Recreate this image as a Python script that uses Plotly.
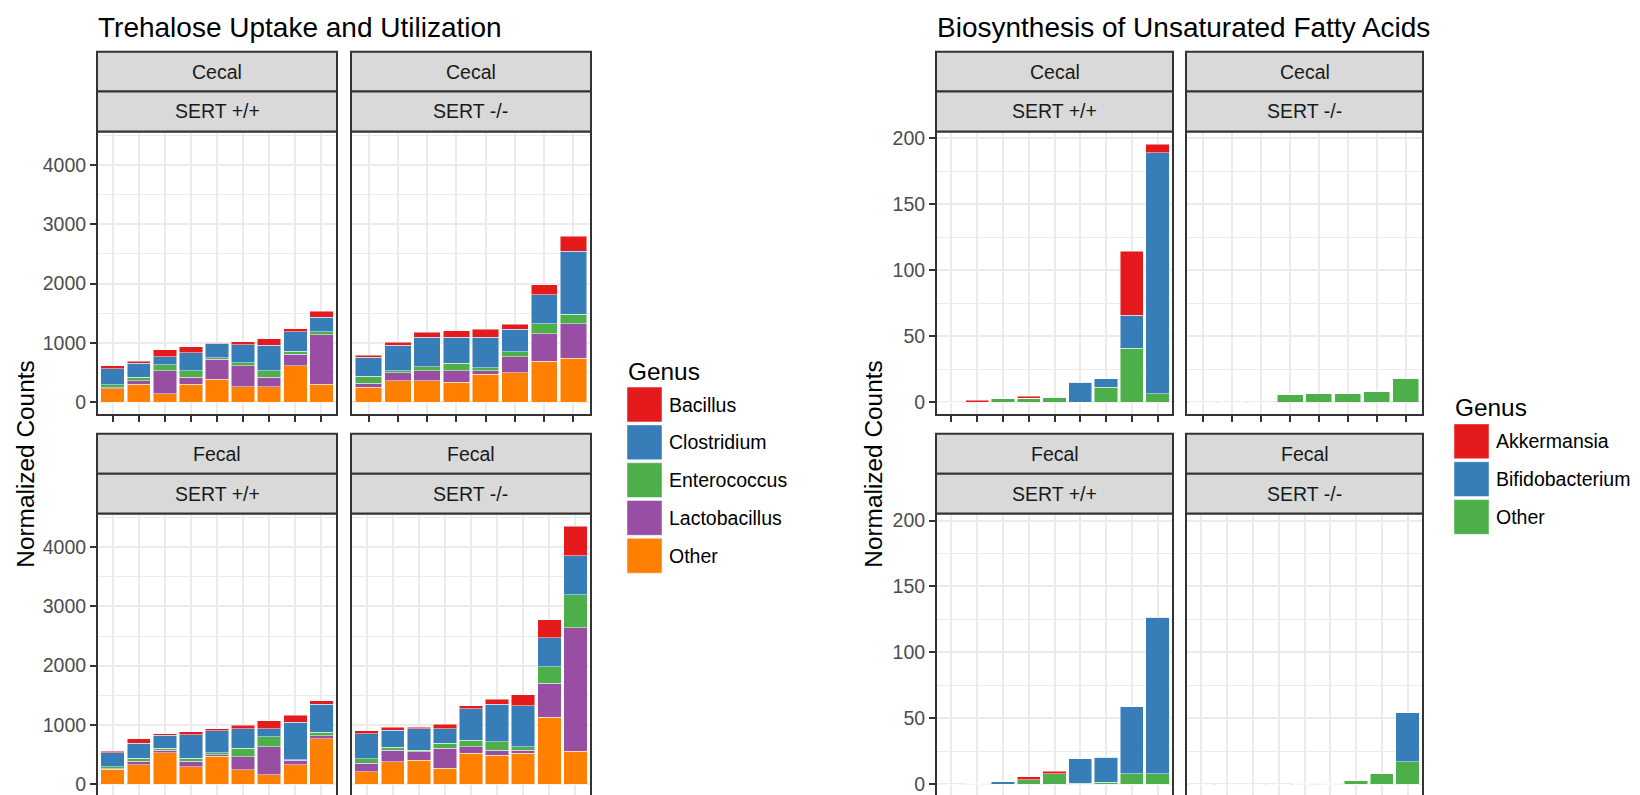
import plotly.graph_objects as go

W, H = 1640, 795
FONT = "Liberation Sans, Arial, sans-serif"

# ---------------- Trehalose Uptake and Utilization ----------------
treh_title = "Trehalose Uptake and Utilization"
treh_genera = ["Bacillus", "Clostridium", "Enterococcus", "Lactobacillus", "Other"]
treh_colors = ["#E41A1C", "#377EB8", "#4DAF4A", "#984EA3", "#FF7F00"]

# Cecal, SERT +/+
treh_cecal_wt_other = [222, 305, 139, 305, 388, 260, 260, 609, 305]
treh_cecal_wt_lacto = [22, 55, 388, 111, 332, 349, 155, 194, 831]
treh_cecal_wt_entero = [50, 56, 100, 111, 28, 56, 111, 56, 50]
treh_cecal_wt_clost = [271, 238, 138, 305, 238, 299, 432, 327, 243]
treh_cecal_wt_bacillus = [44, 39, 122, 100, 11, 55, 111, 50, 106]
# Cecal, SERT -/-
treh_cecal_ko_other = [249, 360, 360, 332, 471, 499, 687, 742]
treh_cecal_ko_lacto = [72, 139, 166, 194, 55, 266, 465, 576]
treh_cecal_ko_entero = [111, 28, 72, 128, 50, 83, 166, 166]
treh_cecal_ko_clost = [327, 432, 499, 443, 521, 382, 493, 1064]
treh_cecal_ko_bacillus = [33, 50, 78, 105, 133, 83, 166, 249]
# Fecal, SERT +/+
treh_fecal_wt_other = [251, 329, 530, 296, 474, 245, 162, 329, 764]
treh_fecal_wt_lacto = [11, 56, 39, 89, 23, 218, 468, 78, 56]
treh_fecal_wt_entero = [28, 50, 39, 50, 33, 140, 168, 5, 56]
treh_fecal_wt_clost = [240, 251, 218, 396, 374, 329, 139, 636, 474]
treh_fecal_wt_bacillus = [22, 84, 28, 50, 33, 61, 134, 112, 56]
# Fecal, SERT -/-
treh_fecal_ko_other = [212, 379, 407, 268, 519, 491, 519, 1127, 552]
treh_fecal_ko_lacto = [139, 196, 140, 335, 111, 84, 56, 575, 2087]
treh_fecal_ko_entero = [79, 50, 28, 83, 112, 139, 55, 278, 558]
treh_fecal_ko_clost = [424, 284, 362, 251, 530, 636, 692, 491, 658]
treh_fecal_ko_bacillus = [50, 51, 23, 78, 50, 84, 184, 307, 496]
treh_yticks = [0, 1000, 2000, 3000, 4000]

# ---------------- Biosynthesis of Unsaturated Fatty Acids ----------------
bio_title = "Biosynthesis of Unsaturated Fatty Acids"
bio_genera = ["Akkermansia", "Bifidobacterium", "Other"]
bio_colors = ["#E41A1C", "#377EB8", "#4DAF4A"]

bio_cecal_wt_other = [0, 0, 2.5, 3, 3.8, 0, 11.3, 41, 6.3]
bio_cecal_wt_bifido = [0, 0, 0, 0, 0, 15, 6.3, 25, 183]
bio_cecal_wt_akk = [0, 1.5, 0, 1.5, 0, 0, 0, 48.5, 6.3]

bio_cecal_ko_other = [0, 0, 0, 5.5, 6.8, 6.8, 8, 18]
bio_cecal_ko_bifido = [0, 0, 0, 0, 0, 0, 0, 0]
bio_cecal_ko_akk = [0, 0, 0, 0, 0, 0, 0, 0]

bio_fecal_wt_other = [0, 0.5, 0, 3.3, 7.8, 0.5, 1.5, 7.8, 7.8]
bio_fecal_wt_bifido = [0.8, 0, 1.8, 0, 0, 18.7, 19, 51, 119]
bio_fecal_wt_akk = [0, 0, 0, 2.3, 1.8, 0, 0, 0, 0]

bio_fecal_ko_other = [0, 0, 0, 0, 0.8, 0.8, 2.8, 7.8, 17]
bio_fecal_ko_bifido = [0, 0, 0, 0, 0, 0, 0, 0, 37]
bio_fecal_ko_akk = [0, 0, 0, 0, 0, 0, 0, 0, 0]
bio_yticks = [0, 50, 100, 150, 200]

site_labels = ["Cecal", "Fecal"]
geno_labels = ["SERT +/+", "SERT -/-"]
y_title = "Normalized Counts"
legend_title = "Genus"

# ---------------- layout geometry (pixels) ----------------
treh_cols = [(89, 329), (343, 583)]
bio_cols = [(928, 1165), (1178, 1415)]
panel_rows = [(120, 405), (504, 789)]
strip_rows = [((40, 80), (80, 120)), ((424, 464), (464, 504))]


def px(x):
    return x / W


def py(y):
    return 1 - y / H


# stacking order: bottom first
treh_facets = [
    (0, 0, [treh_cecal_wt_other, treh_cecal_wt_lacto, treh_cecal_wt_entero, treh_cecal_wt_clost, treh_cecal_wt_bacillus]),
    (0, 1, [treh_cecal_ko_other, treh_cecal_ko_lacto, treh_cecal_ko_entero, treh_cecal_ko_clost, treh_cecal_ko_bacillus]),
    (1, 0, [treh_fecal_wt_other, treh_fecal_wt_lacto, treh_fecal_wt_entero, treh_fecal_wt_clost, treh_fecal_wt_bacillus]),
    (1, 1, [treh_fecal_ko_other, treh_fecal_ko_lacto, treh_fecal_ko_entero, treh_fecal_ko_clost, treh_fecal_ko_bacillus]),
]
treh_stack_colors = [treh_colors[4], treh_colors[3], treh_colors[2], treh_colors[1], treh_colors[0]]
treh_stack_names = [treh_genera[4], treh_genera[3], treh_genera[2], treh_genera[1], treh_genera[0]]

bio_facets = [
    (0, 0, [bio_cecal_wt_other, bio_cecal_wt_bifido, bio_cecal_wt_akk]),
    (0, 1, [bio_cecal_ko_other, bio_cecal_ko_bifido, bio_cecal_ko_akk]),
    (1, 0, [bio_fecal_wt_other, bio_fecal_wt_bifido, bio_fecal_wt_akk]),
    (1, 1, [bio_fecal_ko_other, bio_fecal_ko_bifido, bio_fecal_ko_akk]),
]
bio_stack_colors = [bio_colors[2], bio_colors[1], bio_colors[0]]
bio_stack_names = [bio_genera[2], bio_genera[1], bio_genera[0]]


def ymax_of(facets):
    m = 0
    for _, _, series in facets:
        tot = [sum(v) for v in zip(*series)]
        m = max(m, max(tot))
    return m


fig = go.Figure()
layout = dict(
    width=W, height=H, margin=dict(l=0, r=0, t=0, b=0),
    paper_bgcolor="white", plot_bgcolor="white", barmode="stack",
    showlegend=False, font=dict(family=FONT, color="#1A1A1A"),
)
shapes = []
annotations = []
axis_idx = [0]


def add_block(facets, cols, stack_colors, stack_names, yticks, minor_step):
    ymax = ymax_of(facets)
    yr = [-0.05 * ymax, 1.05 * ymax]
    for row, col, series in facets:
        axis_idx[0] += 1
        i = axis_idx[0]
        sx = "" if i == 1 else str(i)
        n = len(series[0])
        xs = list(range(1, n + 1))
        for vals, c, name in zip(series, stack_colors, stack_names):
            fig.add_trace(go.Bar(
                x=xs, y=vals, name=name, marker=dict(color=c, line=dict(color="rgba(255,255,255,0.6)", width=0.8)),
                width=0.9, xaxis="x" + sx, yaxis="y" + sx, showlegend=False,
            ))
        x0, x1 = cols[col]
        y0, y1 = panel_rows[row]
        layout["xaxis" + sx] = dict(
            domain=[px(x0), px(x1)], anchor="y" + sx, range=[0.4, n + 0.6],
            tickvals=xs, showticklabels=False, ticks="outside", ticklen=6, tickwidth=2,
            tickcolor="#333333", showgrid=True, gridcolor="#EBEBEB", gridwidth=2.2,
            zeroline=False, showline=False, fixedrange=True,
        )
        layout["yaxis" + sx] = dict(
            domain=[py(y1), py(y0)], anchor="x" + sx, range=yr,
            tickvals=yticks, ticktext=[str(t) for t in yticks],
            showticklabels=(col == 0), ticks="outside" if col == 0 else "", ticklen=6, tickwidth=2,
            tickcolor="#333333", tickfont=dict(size=19.5, color="#4D4D4D", family=FONT),
            showgrid=True, gridcolor="#EBEBEB", gridwidth=2.2, zeroline=False, showline=False,
            minor=dict(dtick=minor_step, tick0=0, showgrid=True, gridcolor="#EBEBEB", gridwidth=1.1, ticks=""),
            fixedrange=True,
        )
        # panel border
        shapes.append(dict(type="rect", xref="paper", yref="paper", x0=px(x0), x1=px(x1),
                           y0=py(y1), y1=py(y0), line=dict(color="#333333", width=2),
                           fillcolor="rgba(0,0,0,0)", layer="above"))
        # strips
        for (sy0, sy1), label in zip(strip_rows[row], [site_labels[row], geno_labels[col]]):
            shapes.append(dict(type="rect", xref="paper", yref="paper", x0=px(x0), x1=px(x1),
                               y0=py(sy1), y1=py(sy0), line=dict(color="#333333", width=2),
                               fillcolor="#D9D9D9", layer="above"))
            annotations.append(dict(text=label, xref="paper", yref="paper", x=px((x0 + x1) / 2),
                                    y=py((sy0 + sy1) / 2), showarrow=False, xanchor="center",
                                    yanchor="middle", font=dict(size=19.5, color="#1A1A1A", family=FONT)))


add_block(treh_facets, treh_cols, treh_stack_colors, treh_stack_names, treh_yticks, 500)
add_block(bio_facets, bio_cols, bio_stack_colors, bio_stack_names, bio_yticks, 25)

# titles
for text, x in [(treh_title, 88), (bio_title, 927)]:
    annotations.append(dict(text=text, xref="paper", yref="paper", x=px(x), y=py(16),
                            showarrow=False, xanchor="left", yanchor="middle",
                            font=dict(size=28, color="black", family=FONT)))

# y-axis titles
for x in [18, 866]:
    annotations.append(dict(text=y_title, xref="paper", yref="paper", x=px(x), y=py(455),
                            showarrow=False, xanchor="center", yanchor="middle", textangle=-90,
                            font=dict(size=24.4, color="black", family=FONT)))


# legends
def add_legend(x_key, y_title_px, y_first_key, names, colors):
    annotations.append(dict(text=legend_title, xref="paper", yref="paper", x=px(x_key - 1), y=py(y_title_px),
                            showarrow=False, xanchor="left", yanchor="middle",
                            font=dict(size=24.4, color="black", family=FONT)))
    for k, (nm, c) in enumerate(zip(names, colors)):
        top = y_first_key + k * 38
        shapes.append(dict(type="rect", xref="paper", yref="paper", x0=px(x_key), x1=px(x_key + 35),
                           y0=py(top + 35), y1=py(top), fillcolor=c,
                           line=dict(color="rgba(255,255,255,0.6)", width=0.8)))
        annotations.append(dict(text=nm, xref="paper", yref="paper", x=px(x_key + 40), y=py(top + 17.5),
                                showarrow=False, xanchor="left", yanchor="middle",
                                font=dict(size=19.5, color="black", family=FONT)))


add_legend(619, 361, 377, treh_genera, treh_colors)
add_legend(1446, 398, 414, bio_genera, bio_colors)

layout["shapes"] = shapes
layout["annotations"] = annotations
fig.update_layout(**layout)
fig.write_html("out.html")
